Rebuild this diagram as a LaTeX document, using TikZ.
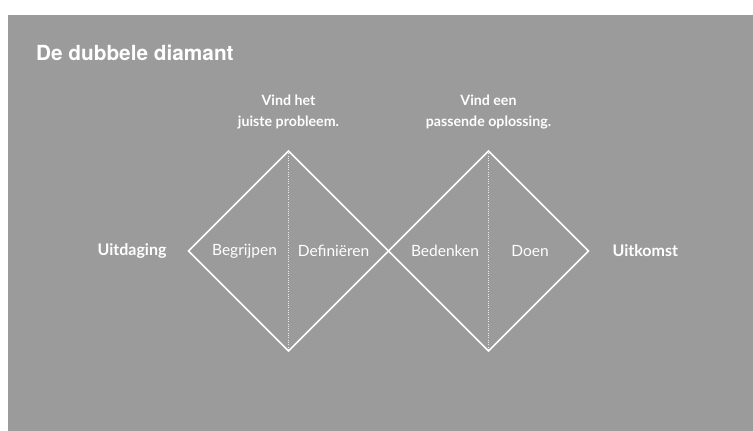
\documentclass[tikz,border=0pt]{standalone}
\usepackage{fontspec}
\setmainfont{Lato}
\newfontfamily\titlefont{TeX Gyre Heros}
\definecolor{bggray}{HTML}{9B9B9B}
\begin{document}
\begin{tikzpicture}[x=1pt,y=-1pt,
  edge/.style={draw=white,line width=1.6pt,line join=miter},
  divider/.style={draw=white!80!bggray,line width=0.6pt,dash pattern=on 1pt off 1.3pt},
  headlbl/.style={text=white,font=\fontsize{14.2}{21}\selectfont\bfseries,align=center},
  endlbl/.style={text=white,font=\fontsize{16}{18}\selectfont\bfseries},
  phaselbl/.style={text=white,font=\fontsize{15.5}{18}\selectfont}]
\useasboundingbox (0,0) rectangle (753,431);
\fill[white] (0,0) rectangle (753,431);
\fill[bggray] (8,15) rectangle (753,431);
\node[anchor=west,text=white,font=\titlefont\fontsize{20.8}{24}\selectfont\bfseries] (title) at (32.5,52.5) {De dubbele diamant};
% diamond vertices
\coordinate (L) at (188.5,251);
\coordinate (T1) at (288.5,151);
\coordinate (B1) at (288.5,351);
\coordinate (M) at (388.5,251);
\coordinate (T2) at (488.5,151);
\coordinate (B2) at (488.5,351);
\coordinate (R) at (588.5,251);
\draw[divider] (T1) -- (B1);
\draw[divider] (T2) -- (B2);
\draw[edge] (L) -- (T1) -- (M) -- (B1) -- cycle;
\draw[edge] (M) -- (T2) -- (R) -- (B2) -- cycle;
\node[headlbl] (h1) at (288.5,112) {Vind het\\juiste probleem.};
\node[headlbl] (h2) at (488.5,112) {Vind een\\passende oplossing.};
\node[endlbl,anchor=east] (in) at (170,251) {Uitdaging};
\node[endlbl,anchor=west] (out) at (609,251) {Uitkomst};
\node[phaselbl] (p1) at (244.5,251) {Begrijpen};
\node[phaselbl] (p2) at (333.5,251) {Definiëren};
\node[phaselbl] (p3) at (445,251) {Bedenken};
\node[phaselbl] (p4) at (530,251) {Doen};
\end{tikzpicture}
\end{document}
